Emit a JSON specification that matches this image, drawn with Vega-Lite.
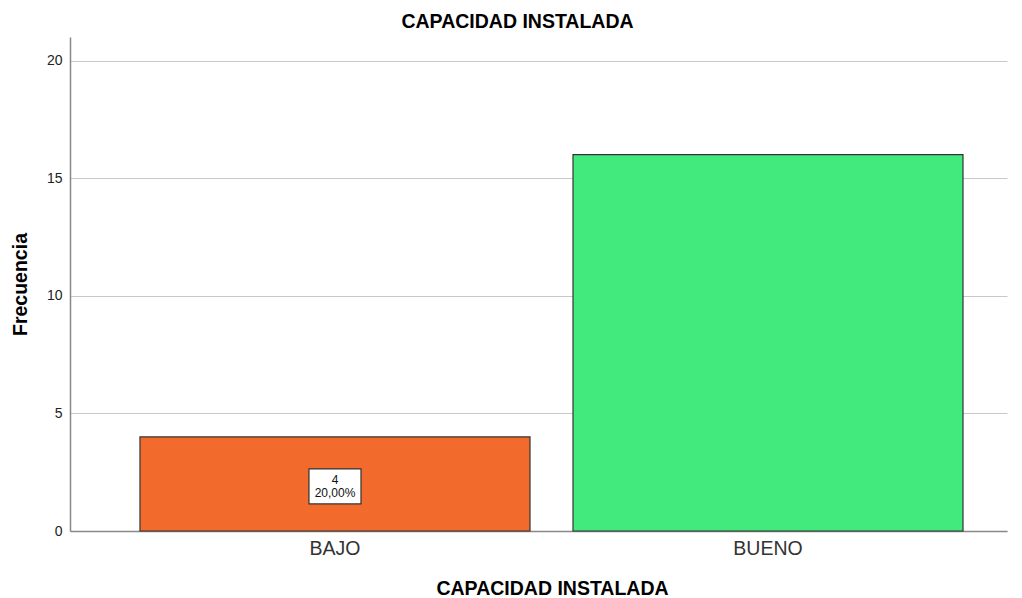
{
  "$schema": "https://vega.github.io/schema/vega-lite/v6.json",
  "width": 937,
  "height": 494,
  "autosize": {"type": "none"},
  "padding": {"left": 70, "top": 37, "right": 15, "bottom": 67},
  "background": "white",
  "config": {"view": {"stroke": null}, "font": "Liberation Sans"},
  "title": {"text": "CAPACIDAD INSTALADA", "fontSize": 19.5, "fontWeight": "bold", "color": "#000000", "anchor": "middle", "frame": "group", "dx": -21, "offset": 5, "font": "Liberation Sans"},
  "data": {"values": [
    {"categoria": "BAJO", "frecuencia": 4, "porcentaje": "20,00%"},
    {"categoria": "BUENO", "frecuencia": 16, "porcentaje": "80,00%"}
  ]},
  "encoding": {
    "x": {"field": "categoria", "type": "nominal", "sort": ["BAJO", "BUENO"],
      "scale": {"paddingInner": 0.0993, "paddingOuter": 0.1316, "align": 0.614},
      "axis": {"title": "CAPACIDAD INSTALADA", "titleFontSize": 19.5, "titleFontWeight": "bold", "titleColor": "#000000", "titleX": 482, "titleY": 57, "titleBaseline": "middle",
        "labelAngle": 0, "labelFontSize": 19.5, "labelFont": "Liberation Sans", "labelColor": "#333333", "labelPadding": 8, "ticks": false, "domainColor": "#888888", "domainWidth": 1.5}
    }
  },
  "layer": [
    {
      "mark": {"type": "bar", "stroke": "#333333", "strokeWidth": 1.2},
      "encoding": {
        "y": {"field": "frecuencia", "type": "quantitative",
          "scale": {"domain": [0, 21], "nice": false},
          "axis": {"title": "Frecuencia", "titleFontSize": 19.5, "titleFontWeight": "bold", "titleColor": "#000000", "titleX": -50, "titleY": 247, "titleBaseline": "middle",
            "values": [0, 5, 10, 15, 20], "ticks": false, "labelFontSize": 14, "labelColor": "#222222", "labelPadding": 8,
            "grid": true, "gridColor": "#c8c8c8", "gridWidth": 1.2, "domainColor": "#888888", "domainWidth": 1.5}
        },
        "color": {"field": "categoria", "type": "nominal", "legend": null,
          "scale": {"domain": ["BAJO", "BUENO"], "range": ["#F26A2C", "#42EA7E"]}}
      }
    },
    {
      "transform": [{"filter": "datum.categoria == 'BAJO'"}],
      "mark": {"type": "bar", "width": 52, "fill": "white", "stroke": "#333333", "strokeWidth": 1.2},
      "encoding": {
        "y": {"datum": 2.64, "type": "quantitative"},
        "y2": {"datum": 1.15}
      }
    },
    {
      "transform": [{"filter": "datum.categoria == 'BAJO'"}],
      "mark": {"type": "text", "fontSize": 12, "color": "#111111", "baseline": "middle", "dy": -6.5},
      "encoding": {
        "y": {"datum": 1.9, "type": "quantitative"},
        "text": {"field": "frecuencia", "type": "quantitative"}
      }
    },
    {
      "transform": [{"filter": "datum.categoria == 'BAJO'"}],
      "mark": {"type": "text", "fontSize": 12, "color": "#111111", "baseline": "middle", "dy": 6.5},
      "encoding": {
        "y": {"datum": 1.9, "type": "quantitative"},
        "text": {"field": "porcentaje", "type": "nominal"}
      }
    }
  ]
}
